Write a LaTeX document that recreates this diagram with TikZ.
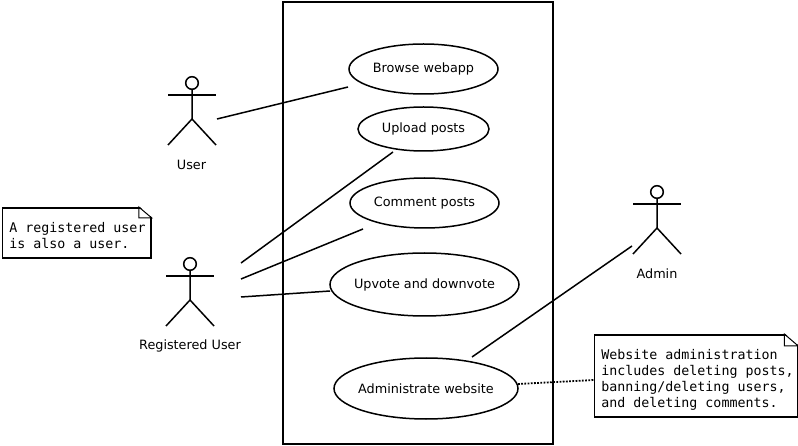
\documentclass[tikz,border=0pt]{standalone}
\usepackage{fontspec}
\setmainfont{DejaVu Sans}
\setmonofont{DejaVu Sans Mono}
\tikzset{
  usecase/.style={draw, ellipse, font=\fontsize{12.8}{15}\selectfont},
  notebox/.style={draw, line width=1.8pt, anchor=north west, align=flush left, inner ysep=0pt, inner xsep=7pt,
    font=\ttfamily\fontsize{13.3}{16}\selectfont, fill=white},
  actorname/.style={font=\fontsize{12.8}{15}\selectfont},
}
\usetikzlibrary{shapes.geometric}
\begin{document}
\begin{tikzpicture}[x=1pt, y=-1pt, line width=1.5pt]
  \useasboundingbox (0,0) rectangle (798,446);

  % system
  \node[draw, minimum width=270pt, minimum height=442pt, inner sep=0pt] (system) at (418,223) {};

  % use cases
  \foreach \name/\x/\y/\w/\h/\txt in {
    browse/423.5/69/149/50/Browse webapp,
    upload/423.5/129/131/44/Upload posts,
    comment/424.5/203/149/50/Comment posts,
    upvote/424.5/284.5/189/63/Upvote and downvote,
    administrate/426/388.5/184/61/Administrate website}
    \node[usecase, minimum width=\w pt, minimum height=\h pt, inner sep=0pt] (\name) at (\x,\y) {\makebox[0pt]{\raisebox{-1.5pt}{\txt}}};

  % actors
  \foreach \name/\x/\y/\lx/\txt in {
    user/192/83/191.5/User,
    registered/190/264/190/Registered User,
    admin/657/192/657/Admin} {
    \draw (\x,\y) circle (6.3pt);
    \draw (\x,\y+6) -- (\x,\y+36) -- (\x-24,\y+62);
    \draw (\x,\y+36) -- (\x+24,\y+62);
    \draw (\x-24,\y+12) -- (\x+24,\y+12);
    \node[actorname] (\name) at (\lx,\y+82) {\txt};
  }

  % notes
  \node[notebox, minimum height=50pt, text width=134.5pt] (noteuser) at (1.5,207)
    {\rule{0pt}{16pt}\mbox{A registered user}\\is also a user.};
  \node[notebox, minimum height=82pt, text width=189pt] (noteadmin) at (593.5,334)
    {\rule{0pt}{18pt}Website administration\\\mbox{includes deleting posts,}\\banning/deleting users,\\and deleting comments.};
  \fill[white] ([shift={(-13,-1)}]noteuser.north east) -- ([shift={(1,-1)}]noteuser.north east) -- ([shift={(1,11)}]noteuser.north east) -- cycle;
  \draw[line width=1pt] ([xshift=-13pt]noteuser.north east) -- ([shift={(-13,11)}]noteuser.north east) -- ([shift={(0,11)}]noteuser.north east) -- cycle;
  \fill[white] ([shift={(-14,-1)}]noteadmin.north east) -- ([shift={(1,-1)}]noteadmin.north east) -- ([shift={(1,12)}]noteadmin.north east) -- cycle;
  \draw[line width=1pt] ([xshift=-14pt]noteadmin.north east) -- ([shift={(-14,12)}]noteadmin.north east) -- ([shift={(0,12)}]noteadmin.north east) -- cycle;

  % connector ends
  \coordinate (userend) at (217,119);
  \coordinate (browseend) at (348,87);
  \coordinate (regupload) at (241,263);
  \coordinate (uploadend) at (393,152);
  \coordinate (regcomment) at (241,279);
  \coordinate (commentend) at (363,229);
  \coordinate (regupvote) at (241,297);
  \coordinate (upvoteend) at (330,291);
  \coordinate (adminend) at (632,246);
  \coordinate (administrateend) at (472,357);
  \coordinate (dotstart) at (518,384);
  \coordinate (dotend) at (594,380);

  % connectors
  \draw (userend) -- (browseend);
  \draw (regupload) -- (uploadend);
  \draw (regcomment) -- (commentend);
  \draw (regupvote) -- (upvoteend);
  \draw (adminend) -- (administrateend);
  \draw[line width=1.8pt, dash pattern=on 1.8pt off 1.4pt] (dotstart) -- (dotend);
\end{tikzpicture}
\end{document}
